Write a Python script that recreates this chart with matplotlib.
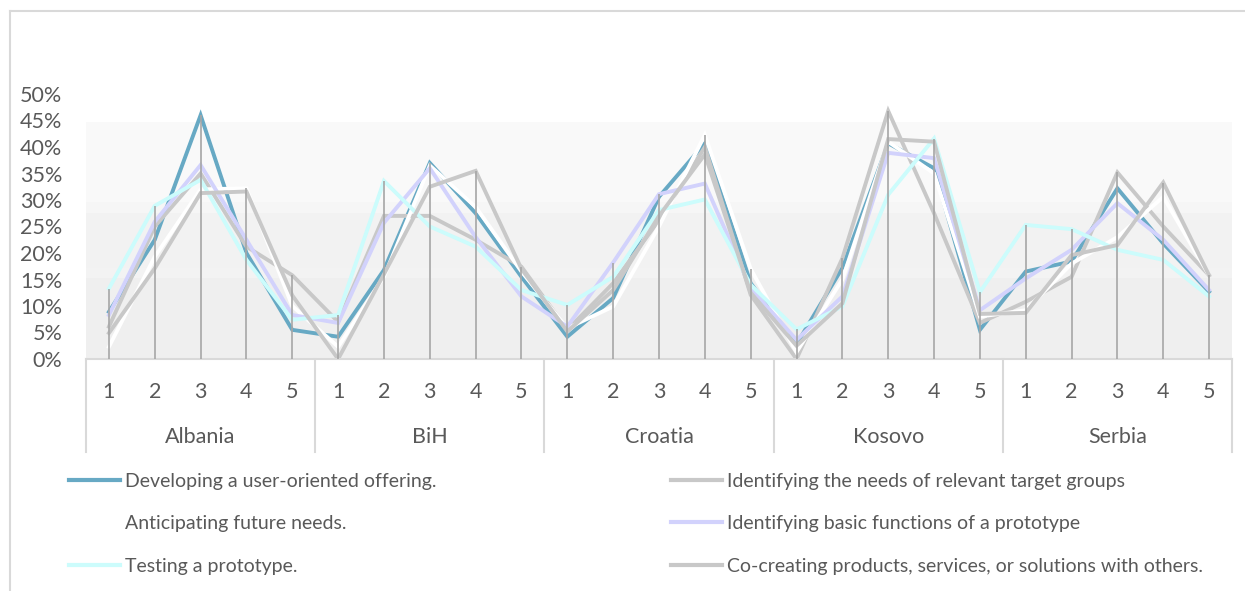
import matplotlib.pyplot as plt
from matplotlib.ticker import PercentFormatter
import matplotlib.transforms as mtransforms

plt.rcParams['font.family'] = ['Lato', 'DejaVu Sans']

# data (percent), 5 answers per country
countries = ["Albania", "BiH", "Croatia", "Kosovo", "Serbia"]
answers = ["1", "2", "3", "4", "5"]

developing = [8.9, 22.5, 46.0, 20.0, 5.5,
              4.2, 16.8, 37.0, 27.5, 15.5,
              4.2, 11.5, 30.6, 40.7, 14.3,
              2.8, 17.2, 40.7, 36.0, 5.5,
              16.5, 18.4, 32.2, 21.8, 12.7]
needs = [6.1, 25.0, 35.0, 21.2, 15.8,
         7.0, 27.0, 27.0, 22.5, 17.4,
         5.5, 14.3, 26.2, 40.0, 12.1,
         0.0, 19.0, 46.8, 27.5, 6.8,
         10.8, 15.5, 35.2, 25.0, 15.8]
anticipating = [2.3, 19.3, 32.0, 32.2, 10.0,
                2.3, 15.5, 36.5, 28.7, 16.5,
                5.8, 9.9, 25.0, 42.3, 17.0,
                1.3, 15.0, 41.0, 35.0, 8.0,
                9.2, 18.0, 23.0, 30.6, 15.8]
basic_functions = [8.3, 25.9, 36.6, 22.5, 8.3,
                   6.8, 25.7, 36.0, 23.0, 11.8,
                   6.1, 18.2, 31.1, 33.1, 13.4,
                   3.6, 11.8, 38.9, 37.9, 9.2,
                   15.2, 20.6, 29.4, 22.5, 13.0]
testing = [13.3, 28.9, 33.8, 18.7, 7.4,
           8.3, 33.6, 25.0, 21.2, 13.0,
           10.2, 15.5, 28.1, 30.1, 14.0,
           5.6, 9.9, 31.0, 41.6, 12.6,
           25.3, 24.5, 20.6, 18.7, 11.8]
cocreating = [4.9, 17.1, 31.3, 31.6, 12.0,
              0.0, 16.0, 32.5, 35.5, 17.0,
              5.2, 13.0, 27.0, 38.6, 12.5,
              2.5, 10.5, 41.5, 41.0, 8.5,
              8.7, 19.6, 21.5, 33.3, 15.8]

series = [
    ("Developing a user-oriented offering.", developing, "#67a9c4"),
    ("Identifying the needs of relevant target groups", needs, "#c8c8c8"),
    ("Anticipating future needs.", anticipating, "#ffffff"),
    ("Identifying basic functions of a prototype", basic_functions, "#d2d2fc"),
    ("Testing a prototype.", testing, "#ccfcfc"),
    ("Co-creating products, services, or solutions with others.", cocreating, "#c8c8c8"),
]

W, H = 1245, 591
fig = plt.figure(figsize=(W / 100, H / 100), dpi=100)

# outer chart border (cropped at right/bottom)
fig.add_artist(plt.Line2D([9.5 / W, 9.5 / W], [0, 1 - 11 / H], color="#d9d9d9", lw=1.5))
fig.add_artist(plt.Line2D([9.5 / W, 1], [1 - 11 / H, 1 - 11 / H], color="#d9d9d9", lw=1.5))

left, right, y0, y50 = 86, 1232, 359, 94
ax = fig.add_axes([left / W, 1 - y0 / H, (right - left) / W, (y0 - y50) / H])

n = len(developing)
x = list(range(n))

# soft gray background bands
bands = [(0, 15.2, "#efefef"), (15.2, 17.1, "#f3f3f3"), (17.1, 27.6, "#f2f2f2"),
         (27.6, 29.7, "#f6f6f6"), (29.7, 44.7, "#f9f9f9")]
for lo, hi, c in bands:
    ax.axhspan(lo, hi, color=c, lw=0, zorder=0)

lines = {}
for label, vals, color in series:
    ln, = ax.plot(x, vals, color=color, lw=2.8, label=label, zorder=2,
                  solid_joinstyle="miter")
    lines[label] = ln

# drop lines from the highest point down to the axis
tops = [max(s[1][i] for s in series) for i in range(n)]
ax.vlines(x, 0, tops, color="#a6a6a6", lw=1.2, zorder=3)

ax.set_xlim(-0.5, n - 0.5)
ax.set_ylim(0, 50)
ax.set_yticks(range(0, 51, 5))
ax.yaxis.set_major_formatter(PercentFormatter(xmax=100, decimals=0))
ax.tick_params(axis="y", length=0, pad=17, labelsize=15.5, labelcolor="#595959")
ax.set_xticks([])
for s in ["top", "right", "left"]:
    ax.spines[s].set_visible(False)
ax.spines["bottom"].set_color("#d9d9d9")
ax.spines["bottom"].set_linewidth(1.5)

# two-level category axis
trans = mtransforms.blended_transform_factory(ax.transData, ax.transAxes)
for i in range(n):
    ax.text(x[i], -0.125, answers[i % 5], transform=trans, ha="center", va="center",
            fontsize=15.5, color="#595959")
for g, name in enumerate(countries):
    ax.text(g * 5 + 2, -0.294, name, transform=trans, ha="center", va="center",
            fontsize=15.5, color="#595959")
for b in range(len(countries) + 1):
    ax.plot([b * 5 - 0.5, b * 5 - 0.5], [0, -0.351], transform=trans, color="#d9d9d9",
            lw=1.5, clip_on=False)

# legend in two columns
left_col = ["Developing a user-oriented offering.", "Anticipating future needs.",
            "Testing a prototype."]
right_col = ["Identifying the needs of relevant target groups",
             "Identifying basic functions of a prototype",
             "Co-creating products, services, or solutions with others."]
for names, xa in [(left_col, 69), (right_col, 671)]:
    leg = fig.legend([lines[k] for k in names], names, loc="upper left",
                     bbox_to_anchor=(xa / W, 1 - 473 / H), frameon=False,
                     fontsize=14, handlelength=2.6, handletextpad=0.3,
                     labelspacing=1.3, borderpad=0, borderaxespad=0)
    for t in leg.get_texts():
        t.set_color("#595959")
    for h in leg.legend_handles:
        h.set_linewidth(3)

fig.savefig("out.png", dpi=100)
